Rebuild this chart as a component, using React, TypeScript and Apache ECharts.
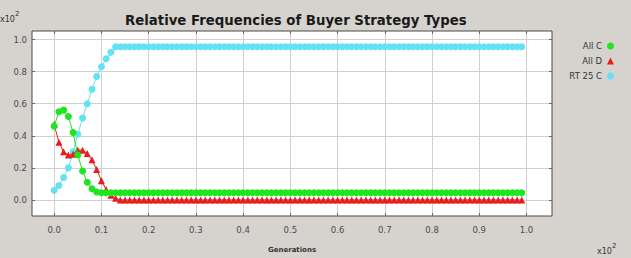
import React, { useEffect, useRef } from 'react';
import * as echarts from 'echarts';

const generations: number[] = [
  0, 1, 2, 3, 4, 5, 6, 7, 8, 9,
  10, 11, 12, 13, 14, 15, 16, 17, 18, 19,
  20, 21, 22, 23, 24, 25, 26, 27, 28, 29,
  30, 31, 32, 33, 34, 35, 36, 37, 38, 39,
  40, 41, 42, 43, 44, 45, 46, 47, 48, 49,
  50, 51, 52, 53, 54, 55, 56, 57, 58, 59,
  60, 61, 62, 63, 64, 65, 66, 67, 68, 69,
  70, 71, 72, 73, 74, 75, 76, 77, 78, 79,
  80, 81, 82, 83, 84, 85, 86, 87, 88, 89,
  90, 91, 92, 93, 94, 95, 96, 97, 98, 99,
];

const allC: number[] = [
  0.46, 0.55, 0.56, 0.52, 0.42, 0.28, 0.18, 0.11, 0.07, 0.05,
  0.045, 0.045, 0.045, 0.045, 0.045, 0.045, 0.045, 0.045, 0.045, 0.045,
  0.045, 0.045, 0.045, 0.045, 0.045, 0.045, 0.045, 0.045, 0.045, 0.045,
  0.045, 0.045, 0.045, 0.045, 0.045, 0.045, 0.045, 0.045, 0.045, 0.045,
  0.045, 0.045, 0.045, 0.045, 0.045, 0.045, 0.045, 0.045, 0.045, 0.045,
  0.045, 0.045, 0.045, 0.045, 0.045, 0.045, 0.045, 0.045, 0.045, 0.045,
  0.045, 0.045, 0.045, 0.045, 0.045, 0.045, 0.045, 0.045, 0.045, 0.045,
  0.045, 0.045, 0.045, 0.045, 0.045, 0.045, 0.045, 0.045, 0.045, 0.045,
  0.045, 0.045, 0.045, 0.045, 0.045, 0.045, 0.045, 0.045, 0.045, 0.045,
  0.045, 0.045, 0.045, 0.045, 0.045, 0.045, 0.045, 0.045, 0.045, 0.045,
];

const allD: number[] = [
  0.47, 0.36, 0.3, 0.28, 0.285, 0.31, 0.31, 0.29, 0.25, 0.19,
  0.12, 0.065, 0.03, 0.01, 0, 0, 0, 0, 0, 0,
  0, 0, 0, 0, 0, 0, 0, 0, 0, 0,
  0, 0, 0, 0, 0, 0, 0, 0, 0, 0,
  0, 0, 0, 0, 0, 0, 0, 0, 0, 0,
  0, 0, 0, 0, 0, 0, 0, 0, 0, 0,
  0, 0, 0, 0, 0, 0, 0, 0, 0, 0,
  0, 0, 0, 0, 0, 0, 0, 0, 0, 0,
  0, 0, 0, 0, 0, 0, 0, 0, 0, 0,
  0, 0, 0, 0, 0, 0, 0, 0, 0, 0,
];

const rt25C: number[] = [
  0.06, 0.09, 0.14, 0.2, 0.3, 0.41, 0.51, 0.6, 0.69, 0.77,
  0.83, 0.88, 0.92, 0.955, 0.955, 0.955, 0.955, 0.955, 0.955, 0.955,
  0.955, 0.955, 0.955, 0.955, 0.955, 0.955, 0.955, 0.955, 0.955, 0.955,
  0.955, 0.955, 0.955, 0.955, 0.955, 0.955, 0.955, 0.955, 0.955, 0.955,
  0.955, 0.955, 0.955, 0.955, 0.955, 0.955, 0.955, 0.955, 0.955, 0.955,
  0.955, 0.955, 0.955, 0.955, 0.955, 0.955, 0.955, 0.955, 0.955, 0.955,
  0.955, 0.955, 0.955, 0.955, 0.955, 0.955, 0.955, 0.955, 0.955, 0.955,
  0.955, 0.955, 0.955, 0.955, 0.955, 0.955, 0.955, 0.955, 0.955, 0.955,
  0.955, 0.955, 0.955, 0.955, 0.955, 0.955, 0.955, 0.955, 0.955, 0.955,
  0.955, 0.955, 0.955, 0.955, 0.955, 0.955, 0.955, 0.955, 0.955, 0.955,
];

const xTicks: number[] = [0, 10, 20, 30, 40, 50, 60, 70, 80, 90, 100];
const yTicks: number[] = [0, 0.2, 0.4, 0.6, 0.8, 1.0];

const seriesNames = ['All C', 'All D', 'RT 25 C'];
const seriesColors = ['#1ee61e', '#e81c1c', '#62e2f2'];
const seriesSymbols = ['circle', 'triangle', 'circle'];

const FONT = 'DejaVu Sans';
const LABEL_COLOR = '#4a4a4a';

export default function App() {
  const ref = useRef<HTMLDivElement>(null);

  useEffect(() => {
    if (!ref.current) return;
    const chart = echarts.init(ref.current, null, { renderer: 'svg' });
    const values = [allC, allD, rt25C];

    const tickStyle = { lineStyle: { color: '#666', width: 1 } };
    const hiddenLine = { show: false, onZero: false };
    const supText = {
      text: '{b|x10}{s|2}',
      rich: {
        b: { fontFamily: FONT, fontSize: 8, fill: '#333', verticalAlign: 'bottom' },
        s: { fontFamily: FONT, fontSize: 7, fill: '#333', padding: [0, 0, 6, 0] },
      },
    };

    chart.setOption({
      animation: false,
      backgroundColor: '#d6d3ce',
      title: {
        text: 'Relative Frequencies of Buyer Strategy Types',
        left: 120,
        top: 9,
        textStyle: { fontFamily: FONT, fontSize: 13.3, fontWeight: 'bold', color: '#1a1a1a' },
      },
      legend: {
        orient: 'vertical',
        right: 12,
        top: 36,
        align: 'right',
        itemWidth: 7,
        itemHeight: 7,
        itemGap: 5,
        textStyle: { fontFamily: FONT, fontSize: 8.5, color: '#333', lineHeight: 10 },
        data: seriesNames.map((n, i) => ({
          name: n,
          icon: i === 1 ? 'triangle' : 'circle',
        })),
      },
      grid: {
        left: 32,
        right: 79,
        top: 31,
        bottom: 41,
        show: true,
        backgroundColor: '#ffffff',
        borderColor: '#4a4a4a',
        borderWidth: 1,
      },
      xAxis: [
        {
          type: 'value',
          min: -4.7,
          max: 105.4,
          name: 'Generations',
          nameLocation: 'middle',
          nameGap: 30,
          nameTextStyle: { fontFamily: FONT, fontSize: 7, color: '#333', fontWeight: 'bold' },
          axisLine: hiddenLine,
          axisTick: { show: true, inside: true, length: 3, customValues: xTicks, ...tickStyle },
          axisLabel: {
            customValues: xTicks,
            formatter: (v: number) => (v / 100).toFixed(1),
            fontFamily: FONT,
            fontSize: 8.5,
            color: LABEL_COLOR,
            margin: 9,
          },
          splitLine: { show: true, lineStyle: { color: '#d0d0d0', width: 1 } },
        },
        {
          type: 'value',
          position: 'top',
          min: -4.7,
          max: 105.4,
          axisLine: hiddenLine,
          axisTick: { show: true, inside: true, length: 3, customValues: xTicks, ...tickStyle },
          axisLabel: { show: false },
          splitLine: { show: false },
        },
      ],
      yAxis: [
        {
          type: 'value',
          min: -0.1,
          max: 1.053,
          axisLine: hiddenLine,
          axisTick: { show: true, inside: true, length: 3, customValues: yTicks, ...tickStyle },
          axisLabel: {
            customValues: yTicks,
            formatter: (v: number) => v.toFixed(1),
            fontFamily: FONT,
            fontSize: 8.5,
            color: LABEL_COLOR,
            margin: 5,
          },
          splitLine: { show: true, lineStyle: { color: '#d0d0d0', width: 1 } },
        },
        {
          type: 'value',
          position: 'right',
          min: -0.1,
          max: 1.053,
          axisLine: hiddenLine,
          axisTick: { show: true, inside: true, length: 3, customValues: yTicks, ...tickStyle },
          axisLabel: { show: false },
          splitLine: { show: false },
        },
      ],
      series: seriesNames.map((name, i) => ({
        name,
        type: 'line',
        xAxisIndex: 0,
        yAxisIndex: 0,
        data: generations.map((g, j) => [g, values[i][j]]),
        symbol: seriesSymbols[i],
        symbolSize: 7,
        showSymbol: true,
        showAllSymbol: true,
        itemStyle: { color: seriesColors[i] },
        lineStyle: { color: seriesColors[i], width: 1 },
        z: 3 - i,
      })),
      graphic: [
        { type: 'text', left: 0, top: 10, style: supText },
        { type: 'text', left: 597, top: 242, style: supText },
      ],
    });

    return () => chart.dispose();
  }, []);

  return (
    <div
      ref={ref}
      style={{ position: 'absolute', left: 0, top: 0, width: 631, height: 258 }}
    />
  );
}
